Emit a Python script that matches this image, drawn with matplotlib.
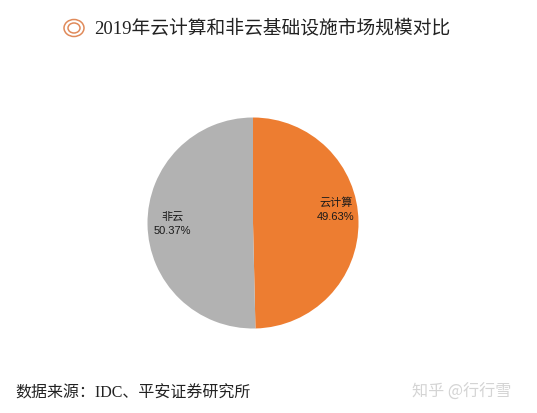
import matplotlib
matplotlib.use('Agg')
import matplotlib.pyplot as plt
from matplotlib.patches import Ellipse

plt.rcParams['font.family'] = ['Liberation Serif', 'Noto Sans CJK SC', 'DejaVu Sans']

labels = ['云计算', '非云']
shares = [49.63, 50.37]
colors = ['#ED7D31', '#B2B2B2']
title = '2019年云计算和非云基础设施市场规模对比'
source = '数据来源：IDC、平安证券研究所'
watermark = '知乎 @行行雪'

W, H = 537, 414
fig = plt.figure(figsize=(W / 100, H / 100), dpi=100)

# 饼图
cx, cy, r = 253, 224, 105.5
ax = fig.add_axes([(cx - r) / W, 1 - (cy + r) / H, 2 * r / W, 2 * r / H])
ax.pie(shares, colors=colors, startangle=90, counterclock=False, radius=1)
ax.set_xlim(-1, 1)
ax.set_ylim(-1, 1)

sans = ['Liberation Sans', 'Noto Sans CJK SC']
ax.text(0.785, 0.14, labels[0] + '\n%.2f%%' % shares[0], ha='center', va='center',
        fontsize=8, family=sans, linespacing=1.5, color='#1a1a1a')
ax.text(-0.765, 0.0, labels[1] + '\n%.2f%%' % shares[1], ha='center', va='center',
        fontsize=8, family=sans, linespacing=1.5, color='#1a1a1a')

# 文字和图标用像素坐标
top = fig.add_axes([0, 0, 1, 1])
top.set_xlim(0, W)
top.set_ylim(H, 0)
top.axis('off')
top.patch.set_alpha(0)
top.add_patch(Ellipse((74, 29), 20, 17, fill=False, ec='#E08A5A', lw=1.1))
top.add_patch(Ellipse((74, 29), 12, 10, fill=False, ec='#E08A5A', lw=1.1))
top.text(94, 28, title, fontsize=13.5, va='center', ha='left', color='#222222')
top.text(15, 394, source, fontsize=11.5, va='center', ha='left', color='#222222')
top.text(511, 392, watermark, fontsize=11.6, va='center', ha='right', color='#d4d4d4',
         family=['Noto Sans CJK SC', 'DejaVu Sans'])

fig.savefig('out.png', dpi=100)
